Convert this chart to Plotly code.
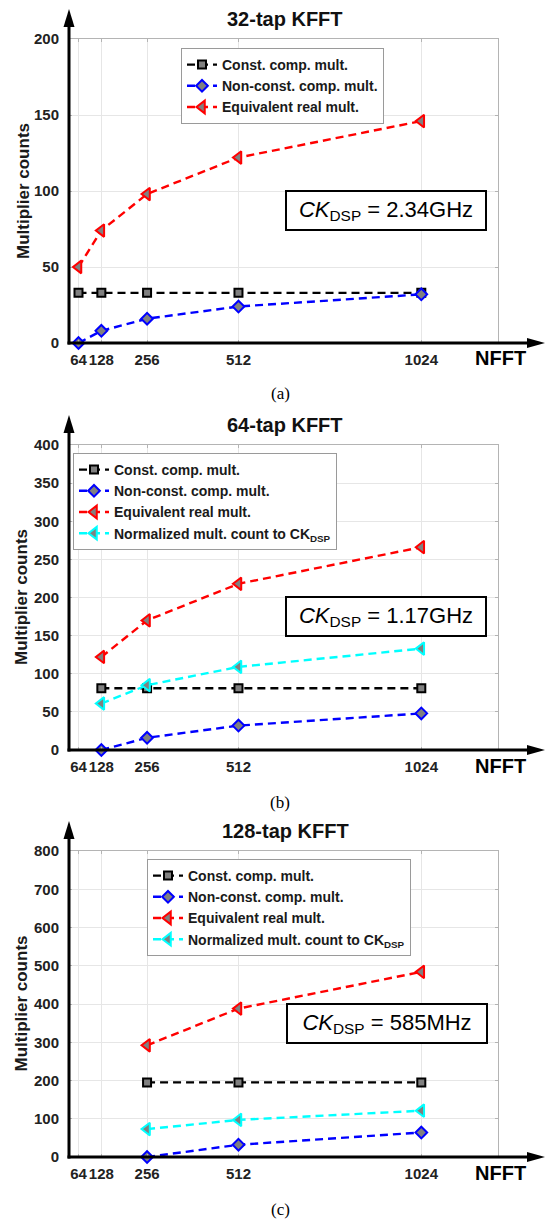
import plotly.graph_objects as go

# ---------------- data ----------------
nfft_a = [64, 128, 256, 512, 1024]
const_a = [33, 33, 33, 33, 33]
nonconst_a = [0, 8, 16, 24, 32]
equiv_a = [50, 74, 98, 122, 146]

nfft_b = [128, 256, 512, 1024]
const_b = [81, 81, 81, 81]
nonconst_b = [0, 16, 32, 48]
equiv_b = [122, 170, 218, 266]
norm_b = [61, 85, 109, 133]

nfft_c = [256, 512, 1024]
const_c = [195, 195, 195]
nonconst_c = [0, 32, 64]
equiv_c = [292, 388, 484]
norm_c = [73, 97, 121]

x_ticks = [64, 128, 256, 512, 1024]
x_ticktext = ["64", "128", "256", "512", "1024"]
titles = ["32-tap KFFT", "64-tap KFFT", "128-tap KFFT"]
clock_texts = ["2.34GHz", "1.17GHz", "585MHz"]
captions = ["(a)", "(b)", "(c)"]
y_max = [200, 400, 800]
y_dtick = [50, 50, 100]

names = ["Const. comp. mult.", "Non-const. comp. mult.", "Equivalent real mult.",
         "Normalized mult. count to CK<sub>DSP</sub>"]
colors = ["#000000", "#0000ff", "#ff0000", "#00ffff"]
symbols = ["square", "diamond", "triangle-left", "triangle-left"]
sizes = [8, 9, 11, 11]

W, H = 552, 1220
def px(x): return x / W
def py(y): return 1 - y / H

FONT = "Liberation Sans, Arial, sans-serif"

# panel geometry (pixels)
x_left, x_right = 69, 498
panels = [
    dict(top=39, bot=343, title_y=19, nfft_y=358, cap_y=393, ytitle_x=23,
         legend=(181, 48), box=(386, 210.5)),
    dict(top=445, bot=750, title_y=425, nfft_y=766, cap_y=802, ytitle_x=21.5,
         legend=(73, 453), box=(386.5, 616.5)),
    dict(top=851, bot=1157, title_y=831, nfft_y=1173, cap_y=1209, ytitle_x=20.5,
         legend=(147, 859), box=(387, 1023)),
]

series = [
    (nfft_a, [const_a, nonconst_a, equiv_a]),
    (nfft_b, [const_b, nonconst_b, equiv_b, norm_b]),
    (nfft_c, [const_c, nonconst_c, equiv_c, norm_c]),
]

fig = go.Figure()
legend_names = ["legend", "legend2", "legend3"]

for p, (xs, ys_list) in enumerate(series):
    ax = "" if p == 0 else str(p + 1)
    for k, ys in enumerate(ys_list):
        fig.add_trace(go.Scatter(
            x=xs, y=ys, mode="lines+markers", name=names[k],
            xaxis="x" + ax, yaxis="y" + ax,
            legend=legend_names[p],
            cliponaxis=False,
            line=dict(color=colors[k], width=2.4, dash="8px,5px"),
            marker=dict(symbol=symbols[k], size=sizes[k], color="#808080",
                        line=dict(color=colors[k], width=2)),
        ))

layout = dict(
    width=W, height=H, margin=dict(l=0, r=0, t=0, b=0),
    paper_bgcolor="white", plot_bgcolor="white",
    template="none", showlegend=True,
    font=dict(family=FONT, color="#262626"),
)

shapes = []
annotations = []
for p, g in enumerate(panels):
    ax = "" if p == 0 else str(p + 1)
    xa = dict(
        domain=[px(x_left), px(x_right)], range=[37.4, 1238.8],
        anchor="y" + ax, tickmode="array", tickvals=x_ticks, ticktext=x_ticktext,
        tickangle=0, showgrid=True, gridcolor="#e6e6e6", gridwidth=1,
        zeroline=False, showline=True, linecolor="#b4b4b4", linewidth=1,
        mirror="ticks", ticks="inside", ticklen=3, tickcolor="#b4b4b4",
        tickfont=dict(family=FONT, size=15, color="#222222", weight="bold"),
        ticklabelstandoff=3, automargin=False, fixedrange=True,
    )
    ya = dict(
        domain=[py(g["bot"]), py(g["top"])], range=[0, y_max[p]],
        anchor="x" + ax, tickmode="linear", tick0=0, dtick=y_dtick[p],
        showgrid=True, gridcolor="#e6e6e6", gridwidth=1,
        zeroline=False, showline=True, linecolor="#b4b4b4", linewidth=1,
        mirror="ticks", ticks="inside", ticklen=3, tickcolor="#b4b4b4",
        tickfont=dict(family=FONT, size=15, color="#222222", weight="bold"),
        ticklabelstandoff=6, automargin=False, fixedrange=True,
    )
    layout["xaxis" + ax] = xa
    layout["yaxis" + ax] = ya

    lx, ly = g["legend"]
    layout[legend_names[p]] = dict(
        x=px(lx), y=py(ly), xref="paper", yref="paper",
        xanchor="left", yanchor="top",
        bgcolor="white", bordercolor="#9a9a9a", borderwidth=1,
        font=dict(family=FONT, size=14, color="#1a1a1a", weight="bold"),
        itemwidth=30, tracegroupgap=0,
    )

    # thick black axes with arrowheads
    bot, top = g["bot"], g["top"]
    shapes.append(dict(type="line", xref="paper", yref="paper",
                       x0=px(x_left), x1=px(x_left), y0=py(bot + 1.5), y1=py(top - 16),
                       line=dict(color="black", width=3)))
    shapes.append(dict(type="path", xref="paper", yref="paper",
                       path=f"M {px(x_left)},{py(top - 30)} L {px(x_left - 5.5)},{py(top - 12)} "
                            f"L {px(x_left + 5.5)},{py(top - 12)} Z",
                       fillcolor="black", line=dict(color="black", width=0)))
    shapes.append(dict(type="line", xref="paper", yref="paper",
                       x0=px(x_left - 1.5), x1=px(530), y0=py(bot), y1=py(bot),
                       line=dict(color="black", width=3)))
    shapes.append(dict(type="path", xref="paper", yref="paper",
                       path=f"M {px(545)},{py(bot)} L {px(527)},{py(bot - 5)} "
                            f"L {px(527)},{py(bot + 5)} Z",
                       fillcolor="black", line=dict(color="black", width=0)))

    annotations.append(dict(
        text=titles[p], xref="paper", yref="paper", x=px(285), y=py(g["title_y"]),
        xanchor="center", yanchor="middle", showarrow=False,
        font=dict(family=FONT, size=20, color="#111111", weight="bold")))
    annotations.append(dict(
        text="NFFT", xref="paper", yref="paper", x=px(500), y=py(g["nfft_y"]),
        xanchor="center", yanchor="middle", showarrow=False,
        font=dict(family=FONT, size=20, color="#000000", weight="bold")))
    annotations.append(dict(
        text="Multiplier counts", xref="paper", yref="paper",
        x=px(g["ytitle_x"]), y=py((bot + top) / 2), textangle=-90,
        xanchor="center", yanchor="middle", showarrow=False,
        font=dict(family=FONT, size=17, color="#1a1a1a", weight="bold")))
    annotations.append(dict(
        text=captions[p], xref="paper", yref="paper", x=px(280), y=py(g["cap_y"]),
        xanchor="center", yanchor="middle", showarrow=False,
        font=dict(family="Liberation Serif, Times New Roman, serif", size=17, color="#000000")))
    bx, by = g["box"]
    annotations.append(dict(
        text=f"<i>CK</i><sub>DSP</sub> = {clock_texts[p]}", xref="paper", yref="paper",
        x=px(bx), y=py(by), xanchor="center", yanchor="middle", showarrow=False,
        width=198, height=37, borderpad=0, borderwidth=2, bordercolor="black",
        bgcolor="white", align="center", valign="middle",
        font=dict(family=FONT, size=22, color="#000000")))

layout["shapes"] = shapes
layout["annotations"] = annotations
fig.update_layout(**layout)
fig.write_html("out.html")
